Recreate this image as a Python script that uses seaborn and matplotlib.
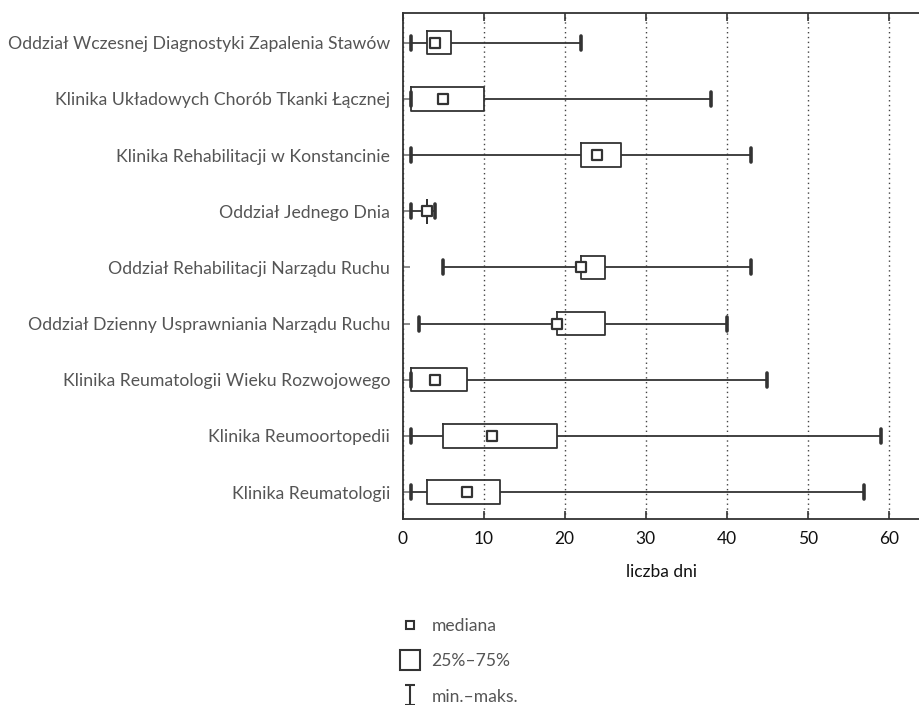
import numpy as np
import pandas as pd
import seaborn as sns
import matplotlib.pyplot as plt
from matplotlib.lines import Line2D
from matplotlib.path import Path

oddzialy = [
    "Oddział Wczesnej Diagnostyki Zapalenia Stawów",
    "Klinika Układowych Chorób Tkanki Łącznej",
    "Klinika Rehabilitacji w Konstancinie",
    "Oddział Jednego Dnia",
    "Oddział Rehabilitacji Narządu Ruchu",
    "Oddział Dzienny Usprawniania Narządu Ruchu",
    "Klinika Reumatologii Wieku Rozwojowego",
    "Klinika Reumoortopedii",
    "Klinika Reumatologii",
]
minimum = [1, 1, 1, 1, 5, 2, 1, 1, 1]
q1 = [3, 1, 22, 3, 22, 19, 1, 5, 3]
mediana = [4, 5, 24, 3, 22, 19, 4, 11, 8]
q3 = [6, 10, 27, 3, 25, 25, 8, 19, 12]
maksimum = [22, 38, 43, 4, 43, 40, 45, 59, 57]

# five summary values per ward -> seaborn recomputes exactly these quartiles
rows = []
for i, name in enumerate(oddzialy):
    for v in (minimum[i], q1[i], mediana[i], q3[i], maksimum[i]):
        rows.append({"oddzial": name, "dni": v})
df = pd.DataFrame(rows)
med = pd.DataFrame({"oddzial": oddzialy, "dni": mediana})

sns.set_theme(style="white")
plt.rcParams["font.family"] = ["Lato", "DejaVu Sans"]

dark = "#333333"
fig = plt.figure(figsize=(9.2, 7.05), dpi=100)
ax = fig.add_axes([402.7 / 920, 1 - 519 / 705, 1 - 402.7 / 920, (519 - 13.3) / 705])

sns.boxplot(data=df, x="dni", y="oddzial", order=oddzialy, orient="h",
            whis=(0, 100), width=0.415, fill=False, color=dark, linewidth=1.3,
            showfliers=False,
            medianprops={"visible": False},
            capprops={"linewidth": 2.6},
            ax=ax)

# make the end caps a bit taller, like in the original
for ln in ax.lines:
    if abs(ln.get_linewidth() - 2.6) < 1e-6:
        y = np.asarray(ln.get_ydata(), dtype=float)
        c = y.mean()
        ln.set_ydata([c - 0.125, c + 0.125])

sns.scatterplot(data=med, x="dni", y="oddzial", marker="s", s=55,
                facecolor="white", edgecolor=dark, linewidth=1.6,
                zorder=5, ax=ax)

ax.set_xlim(0, (920 - 402.7) / 8.1)
ax.set_ylim(8.48, -0.523)
ax.set_xticks([0, 10, 20, 30, 40, 50, 60])
ax.xaxis.grid(True, linestyle=(0, (1, 2.5)), color="#444444", linewidth=1)
ax.set_axisbelow(True)
for s in ["left", "top", "bottom"]:
    ax.spines[s].set_color(dark)
    ax.spines[s].set_linewidth(1.3)
ax.spines["right"].set_visible(False)

ax.tick_params(axis="x", direction="in", top=True, bottom=True, length=6,
               width=1.2, color=dark, labelsize=12.5, labelcolor="#111111", pad=9)
ax.tick_params(axis="y", direction="in", left=True, length=5, width=1.2,
               color="#777777", labelsize=12.7, labelcolor="#555555", pad=9)
ax.set_xlabel("liczba dni", fontsize=12.5, color="#111111", labelpad=12)
ax.set_ylabel("")

# legend below the plot
bar = Path([(-0.5, 1), (0.5, 1), (0, 1), (0, -1), (-0.5, -1), (0.5, -1)],
           [Path.MOVETO, Path.LINETO, Path.MOVETO, Path.LINETO, Path.MOVETO, Path.LINETO])
handles = [
    Line2D([], [], marker="s", markersize=6, mfc="white", mec=dark, mew=1.5, ls="none"),
    Line2D([], [], marker="s", markersize=14, mfc="white", mec=dark, mew=1.5, ls="none"),
    Line2D([], [], marker=bar, markersize=14, mec=dark, mew=1.5, ls="none"),
]
labels = ["mediana", "25%–75%", "min.–maks."]
fig.legend(handles, labels, loc="upper left", bbox_to_anchor=(393 / 920, 1 - 611 / 705),
           frameon=False, fontsize=12.6, labelcolor="#555555", labelspacing=1.1,
           handlelength=1.2, handletextpad=0.6, borderaxespad=0)

fig.savefig("out.png", dpi=100)
